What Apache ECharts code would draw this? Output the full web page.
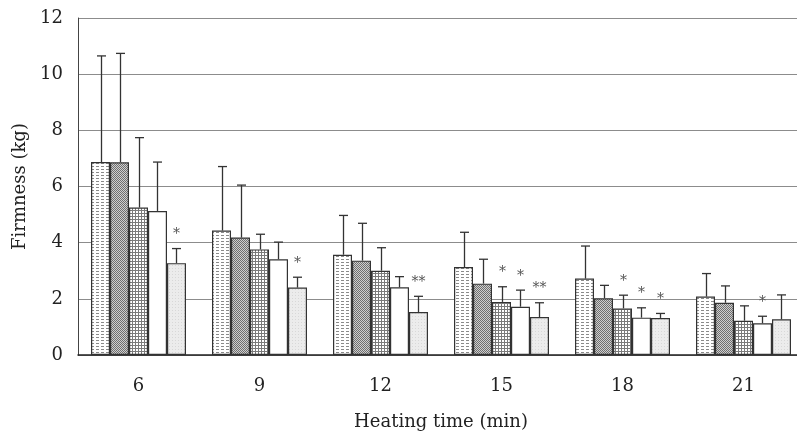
<!DOCTYPE html>
<html>
<head>
<meta charset="utf-8">
<script src="https://cdn.jsdelivr.net/npm/echarts@6/dist/echarts.min.js"></script>
<style>
  html, body { margin: 0; padding: 0; background: #fff; }
  #main { width: 797px; height: 433px; }
</style>
</head>
<body>
<div id="main"></div>
<script>
// heating time (min)
var hours = ['6', '9', '12', '15', '18', '21'];

// mean firmness (kg), one array per sample
var firm1 = [6.87, 4.43, 3.57, 3.13, 2.72, 2.08];
var firm2 = [6.86, 4.18, 3.36, 2.54, 2.02, 1.86];
var firm3 = [5.25, 3.76, 3.00, 1.89, 1.66, 1.22];
var firm4 = [5.13, 3.41, 2.41, 1.72, 1.33, 1.13];
var firm5 = [3.27, 2.40, 1.53, 1.35, 1.32, 1.27];

// standard deviations (upper error bar)
var sd1 = [3.78, 2.28, 1.40, 1.24, 1.16, 0.82];
var sd2 = [3.88, 1.87, 1.33, 0.87, 0.46, 0.60];
var sd3 = [2.49, 0.54, 0.82, 0.54, 0.47, 0.53];
var sd4 = [1.74, 0.61, 0.38, 0.59, 0.35, 0.25];
var sd5 = [0.52, 0.37, 0.56, 0.51, 0.16, 0.87];

// significance marks
var sig1 = ['', '', '', '', '', ''];
var sig2 = ['', '', '', '', '', ''];
var sig3 = ['', '', '', '*', '*', ''];
var sig4 = ['', '', '', '*', '*', '*'];
var sig5 = ['*', '*', '**', '**', '*', ''];

var yTicks = [0, 2, 4, 6, 8, 10, 12];

var means = [firm1, firm2, firm3, firm4, firm5];
var sds = [sd1, sd2, sd3, sd4, sd5];
var sigs = [sig1, sig2, sig3, sig4, sig5];

var CAT_GAP = 0.215;
var SERIF = '"DejaVu Serif", "Liberation Serif", serif';

// small repeating fill patterns, like the printed figure
function makePattern(w, h, draw) {
  var c = document.createElement('canvas');
  c.width = w; c.height = h;
  var ctx = c.getContext('2d');
  draw(ctx);
  return { image: c, repeat: 'repeat' };
}
var pat1 = makePattern(5, 3, function (ctx) {
  ctx.fillStyle = '#ffffff'; ctx.fillRect(0, 0, 5, 3);
  ctx.fillStyle = '#8a8a8a'; ctx.fillRect(1, 1, 3, 1);
});
var pat2 = makePattern(2, 2, function (ctx) {
  ctx.fillStyle = '#cfcfcf'; ctx.fillRect(0, 0, 2, 2);
  ctx.fillStyle = '#6f6f6f'; ctx.fillRect(0, 0, 1, 1); ctx.fillRect(1, 1, 1, 1);
});
var pat3 = makePattern(3, 3, function (ctx) {
  ctx.fillStyle = '#ffffff'; ctx.fillRect(0, 0, 3, 3);
  ctx.fillStyle = '#7a7a7a'; ctx.fillRect(0, 0, 3, 1); ctx.fillRect(0, 0, 1, 3);
});
var pat5 = makePattern(3, 3, function (ctx) {
  ctx.fillStyle = '#ececec'; ctx.fillRect(0, 0, 3, 3);
  ctx.fillStyle = '#d8d8d8'; ctx.fillRect(1, 1, 1, 1);
});
var fills = [pat1, pat2, pat3, '#ffffff', pat5];

var chart = echarts.init(document.getElementById('main'));

var series = [];
means.forEach(function (m, s) {
  series.push({
    name: 'S' + (s + 1),
    type: 'bar',
    data: m,
    barGap: 0,
    barCategoryGap: (CAT_GAP * 100) + '%',
    itemStyle: { color: fills[s], borderColor: '#333', borderWidth: 1.2 },
    silent: true
  });
});

// error bars + stars
var errData = [];
means.forEach(function (m, s) {
  m.forEach(function (v, k) {
    errData.push([k, v, v + sds[s][k], s]);
  });
});
series.push({
  type: 'custom',
  data: errData,
  z: 10,
  silent: true,
  renderItem: function (params, api) {
    var k = api.value(0), s = api.value(3);
    var base = api.coord([k, api.value(1)]);
    var tip = api.coord([k, api.value(2)]);
    var bw = api.size([1, 0])[0] * (1 - CAT_GAP) / 5;
    var x = Math.round(base[0] + (s - 2) * bw) + 0.5;
    var st = { stroke: '#333', lineWidth: 1.3 };
    var kids = [
      { type: 'line', shape: { x1: x, y1: base[1], x2: x, y2: tip[1] }, style: st },
      { type: 'line', shape: { x1: x - 4.5, y1: tip[1], x2: x + 4.5, y2: tip[1] }, style: st }
    ];
    var mark = sigs[s][k];
    if (mark) {
      kids.push({
        type: 'text',
        style: {
          x: x, y: tip[1] - 14, text: mark, fill: '#555',
          font: '14px ' + SERIF, align: 'center', verticalAlign: 'middle'
        }
      });
    }
    return { type: 'group', children: kids };
  }
});

chart.setOption({
  backgroundColor: '#ffffff',
  animation: false,
  grid: { left: 78, width: 726, top: 18, bottom: 78, containLabel: false, outerBoundsMode: 'none' },
  xAxis: {
    type: 'category',
    data: hours,
    name: 'Heating time (min)',
    nameLocation: 'middle',
    nameGap: 58,
    nameTextStyle: { fontFamily: SERIF, fontSize: 18, color: '#222' },
    axisLine: { lineStyle: { color: '#222', width: 1.5 } },
    axisTick: { inside: true, length: 5, lineStyle: { color: '#999' } },
    axisLabel: { margin: 22, fontFamily: SERIF, fontSize: 18, color: '#222' }
  },
  yAxis: {
    type: 'value',
    min: yTicks[0],
    max: yTicks[yTicks.length - 1],
    interval: 2,
    name: 'Firmness (kg)',
    nameLocation: 'middle',
    nameGap: 46,
    nameTextStyle: { fontFamily: SERIF, fontSize: 18, color: '#222' },
    axisLine: { show: true, lineStyle: { color: '#444', width: 1 } },
    axisTick: { show: false },
    axisLabel: { margin: 15, fontFamily: SERIF, fontSize: 18, color: '#222' },
    splitLine: { show: true, lineStyle: { color: '#8c8c8c', width: 1 } }
  },
  series: series
});
</script>
</body>
</html>
